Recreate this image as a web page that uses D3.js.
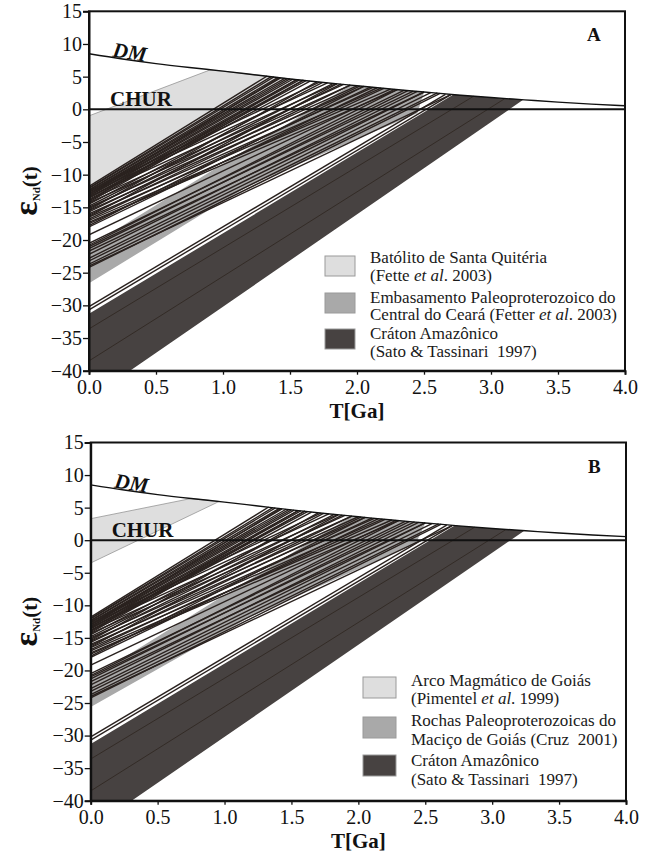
<!DOCTYPE html>
<html><head><meta charset="utf-8">
<script src="https://cdn.jsdelivr.net/npm/d3@7"></script>
<style>body{margin:0;background:#fff}svg{display:block}</style>
</head><body>
<svg id="c" width="655" height="852"></svg>
<script>
// ---------- data ----------
const xTicks = [0, 0.5, 1, 1.5, 2, 2.5, 3, 3.5, 4];
const yTicks = [15, 10, 5, 0, -5, -10, -15, -20, -25, -30, -35, -40];
// Depleted mantle curve [T(Ga), eps]
const dmCurve = [[0,8.5],[0.25,7.7],[0.5,7.0],[0.75,6.4],[1.0,5.85],[1.25,5.25],[1.5,4.65],[1.75,4.1],[2.0,3.6],[2.25,3.1],[2.5,2.65],[2.75,2.2],[3.0,1.8],[3.25,1.45],[3.5,1.1],[3.75,0.8],[4.0,0.55]];
// Sample evolution lines: [eps at T=0, T_DM, eps at T_DM]
const samples = [
 [-11.8,1.33,5.1],[-12.0,1.36,5.0],[-12.1,1.38,4.95],[-12.3,1.41,4.9],[-12.4,1.43,4.8],
 [-12.6,1.46,4.75],[-12.7,1.48,4.7],[-12.9,1.50,4.65],[-13.0,1.52,4.6],[-13.2,1.55,4.55],
 [-13.3,1.57,4.5],[-13.5,1.60,4.45],[-13.6,1.62,4.4],[-13.8,1.65,4.3],
 [-13.0,1.42,4.85],[-14.0,1.55,4.55],[-14.2,1.60,4.45],
 [-12.5,1.72,4.15],[-12.9,1.78,4.05],[-13.4,1.84,3.9],[-13.9,1.90,3.8],[-14.3,1.95,3.7],
 [-14.5,1.74,4.1],[-14.8,1.82,3.95],[-15.0,2.00,3.6],[-15.4,1.70,4.2],
 [-15.2,1.88,3.85],[-15.5,2.05,3.5],[-15.7,1.95,3.7],[-16.0,2.12,3.35],[-16.2,2.02,3.55],
 [-16.4,1.85,3.9],[-16.5,2.18,3.25],[-16.8,2.10,3.4],[-17.0,2.25,3.1],[-17.3,2.30,3.0],
 [-17.5,2.20,3.2],[-17.8,2.05,3.5],[-18.0,2.15,3.3],
 [-19.2,2.28,3.05],[-20.5,2.35,2.9],[-20.8,2.30,3.0],[-21.0,2.42,2.8],[-21.3,2.38,2.85],
 [-21.7,2.50,2.65],[-22.2,2.45,2.75],[-22.8,2.50,2.65],[-23.2,2.55,2.55],[-23.7,2.60,2.5],
 [-24.0,2.70,2.25],[-24.2,2.62,2.45],
 [-30.2,2.66,2.3],[-30.7,2.70,2.25]
];
// Comparison fields (polygons, [T, eps])
const santaQuiteria = [[0,-1],[0.9,6.0],[1.0,5.85],[1.25,5.25],[1.5,4.65],[1.6,4.43],[0,-13]];
const embasamentoCeara = [[0,-21],[1.95,3.7],[2.25,3.1],[2.5,2.65],[2.45,-0.6],[1.2,-11.6],[0,-26.6]];
const arcoGoias = [[0,3.3],[0.75,6.4],[0.96,5.95],[0,-3.5]];
const macicoGoias = [[0,-21.2],[1.95,3.7],[2.25,3.1],[2.5,2.65],[2.43,-0.5],[1.19,-11.8],[0,-25.6]];
const cratonAmazonico = [[0,-31.3],[2.72,2.25],[3.0,1.8],[3.24,1.45],[0.306,-40],[0,-40]];
const cratonInner = [[[0,-33.6],[2.87,2.0]],[[0,-38.5],[3.1,1.6]]];
// Legends
const legendA = [
 ["Batólito de Santa Quitéria", "(Fette <i>et al</i>. 2003)"],
 ["Embasamento Paleoproterozoico do", "Central do Ceará (Fetter <i>et al</i>. 2003)"],
 ["Cráton Amazônico", "(Sato & Tassinari  1997)"]
];
const legendB = [
 ["Arco Magmático de Goiás", "(Pimentel <i>et al</i>. 1999)"],
 ["Rochas Paleoproterozoicas do", "Maciço de Goiás (Cruz  2001)"],
 ["Cráton Amazônico", "(Sato & Tassinari  1997)"]
];
const fillColors = ["#dedede", "#a9a9a9", "#474241"];

// ---------- drawing ----------
const svg = d3.select("#c");
const SERIF = "Liberation Serif, Times New Roman, serif";

function panel(cfg) {
  const x = d3.scaleLinear([0, 4], [cfg.x0, cfg.x1]);
  const y = d3.scaleLinear([-40, 15], [cfg.yb, cfg.yt]);
  const g = svg.append("g");
  const cid = "clip" + cfg.name;
  g.append("clipPath").attr("id", cid).append("rect")
    .attr("x", cfg.x0).attr("y", cfg.yt).attr("width", cfg.x1 - cfg.x0).attr("height", cfg.yb - cfg.yt);
  const p = g.append("g").attr("clip-path", `url(#${cid})`);
  const line = d3.line().x(d => x(d[0])).y(d => y(d[1]));

  p.append("path").attr("d", line(cfg.light) + "Z").attr("fill", fillColors[0]).attr("stroke", "#8a8a8a").attr("stroke-width", 0.7);
  p.append("path").attr("d", line(cfg.medium) + "Z").attr("fill", fillColors[1]).attr("stroke", "none");
  p.append("path").attr("d", line(cratonAmazonico) + "Z").attr("fill", fillColors[2]).attr("stroke", "none");
  cratonInner.forEach(l => p.append("path").attr("d", line(l)).attr("stroke", "#2e2620").attr("stroke-width", 0.8).attr("fill", "none"));

  samples.forEach(s => {
    p.append("path").attr("d", line([[0, s[0]], [s[1], s[2]]]))
      .attr("stroke", "#2a221f").attr("stroke-width", 1.4).attr("fill", "none");
  });
  // DM curve
  p.append("path").attr("d", d3.line().x(d => x(d[0])).y(d => y(d[1])).curve(d3.curveMonotoneX)(dmCurve))
    .attr("stroke", "#111").attr("stroke-width", 1.4).attr("fill", "none");
  // CHUR
  p.append("line").attr("x1", x(0)).attr("x2", x(4)).attr("y1", y(0)).attr("y2", y(0))
    .attr("stroke", "#111").attr("stroke-width", 2);

  // frame
  g.append("rect").attr("x", cfg.x0).attr("y", cfg.yt).attr("width", cfg.x1 - cfg.x0).attr("height", cfg.yb - cfg.yt)
    .attr("fill", "none").attr("stroke", "#111").attr("stroke-width", 2);

  // axes
  const ax = g.append("g").attr("transform", `translate(0,${cfg.yb})`)
    .call(d3.axisBottom(x).tickValues(xTicks).tickFormat(d3.format(".1f")).tickSize(4).tickPadding(5));
  const ay = g.append("g").attr("transform", `translate(${cfg.x0},0)`)
    .call(d3.axisLeft(y).tickValues(yTicks).tickFormat(d3.format("d")).tickSize(6).tickPadding(1));
  [ax, ay].forEach(a => {
    a.attr("font-family", SERIF).attr("font-size", 20);
    a.select(".domain").attr("stroke", "#111").attr("stroke-width", 2);
    a.selectAll(".tick line").attr("stroke", "#111").attr("stroke-width", 1.3);
    a.selectAll("text").attr("fill", "#111");
  });

  // labels
  g.append("text").attr("x", cfg.x0 + 21).attr("y", y(0) - 3.5).text("CHUR")
    .attr("font-family", SERIF).attr("font-weight", "bold").attr("font-size", 21).attr("fill", "#111");
  g.append("text").attr("transform", `translate(${cfg.x0 + 23},${y(8.1)}) rotate(9)`).text("DM")
    .attr("font-family", SERIF).attr("font-weight", "bold").attr("font-style", "italic").attr("font-size", 21).attr("fill", "#111");
  g.append("text").attr("x", cfg.x1 - 38).attr("y", cfg.yt + 30).text(cfg.name)
    .attr("font-family", SERIF).attr("font-weight", "bold").attr("font-size", 19).attr("fill", "#111");

  // axis titles
  g.append("text").attr("x", (cfg.x0 + cfg.x1) / 2).attr("y", cfg.yb + 47).attr("text-anchor", "middle")
    .text("T[Ga]").attr("font-family", SERIF).attr("font-weight", "bold").attr("font-size", 21).attr("fill", "#111");
  const yt = g.append("text").attr("transform", `translate(37,${(cfg.yt + cfg.yb) / 2}) rotate(-90)`)
    .attr("text-anchor", "middle").attr("font-family", SERIF).attr("font-weight", "bold").attr("fill", "#111");
  yt.append("tspan").attr("font-size", 34).text("ε");
  yt.append("tspan").attr("font-size", 11).attr("dy", 3).text("Nd");
  yt.append("tspan").attr("font-size", 21).attr("dy", -3).text("(t)");

  // legend
  const L = cfg.legend;
  cfg.legendItems.forEach((item, i) => {
    g.append("rect").attr("x", L.bx).attr("y", L.boxY[i]).attr("width", L.bw).attr("height", L.bh)
      .attr("fill", fillColors[i]).attr("stroke", "#9a9a9a").attr("stroke-width", 1);
    item.forEach((txt, j) => {
      const t = g.append("text").attr("x", L.tx).attr("y", L.base[i][j])
        .attr("font-family", SERIF).attr("font-size", 17).attr("fill", "#1a1a1a").style("white-space", "pre");
      txt.split(/(<i>.*?<\/i>)/).forEach(part => {
        if (!part) return;
        if (part.startsWith("<i>")) t.append("tspan").attr("font-style", "italic").text(part.slice(3, -4));
        else t.append("tspan").text(part);
      });
    });
  });
}

panel({name: "A", x0: 89, x1: 625, yt: 11.3, yb: 370.7,
  light: santaQuiteria, medium: embasamentoCeara, legendItems: legendA,
  legend: {bx: 325, bw: 30, bh: 20, boxY: [256, 293, 329], tx: 370,
           base: [[263.3, 281], [302.7, 320], [339.3, 357.3]]}});
panel({name: "B", x0: 90.7, x1: 626, yt: 442.5, yb: 800.7,
  light: arcoGoias, medium: macicoGoias, legendItems: legendB,
  legend: {bx: 363, bw: 33, bh: 21, boxY: [677, 717, 755], tx: 411,
           base: [[686, 703.5], [726, 745], [766, 785]]}});
</script>
</body></html>
